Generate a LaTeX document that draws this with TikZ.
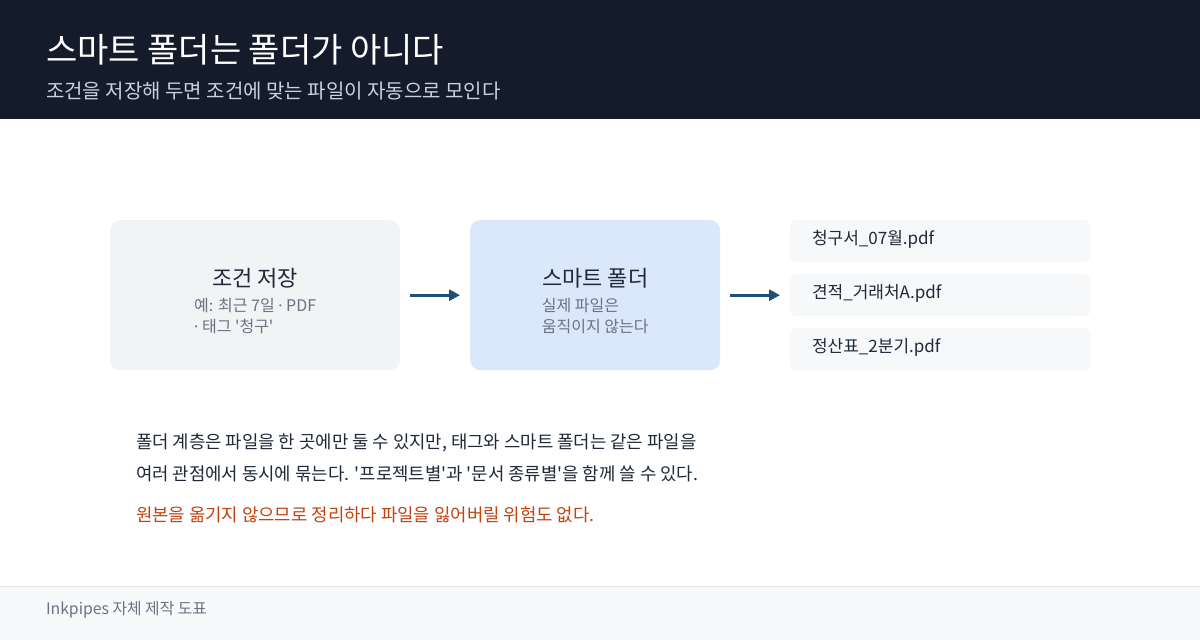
\documentclass[tikz,border=0pt]{standalone}
\usepackage{fontspec}
\setmainfont{Noto Sans CJK KR}
\newfontfamily\latn{Noto Sans}
\usetikzlibrary{arrows.meta}
\definecolor{hdr}{HTML}{141B2B}
\definecolor{hsub}{HTML}{CBD2DC}
\definecolor{ink}{HTML}{1F2937}
\definecolor{mute}{HTML}{6B7280}
\definecolor{boxg}{HTML}{F1F3F5}
\definecolor{boxb}{HTML}{DBE8FC}
\definecolor{filebg}{HTML}{F7F8FA}
\definecolor{arrc}{HTML}{1F4E79}
\definecolor{warn}{HTML}{C2410C}
\definecolor{foot}{HTML}{F8F9FB}
\definecolor{footline}{HTML}{E3E6EA}
\newcommand{\q}{\textquotesingle}
\newcommand{\md}{{\latn ·}}
\tikzset{
  card/.style={draw=none, rounded corners=10pt, inner sep=0pt},
  filebox/.style={draw=none, fill=filebg, rounded corners=6pt, inner sep=0pt, minimum width=300pt, minimum height=42pt},
  arr/.style={draw=arrc, line width=3pt, -{Triangle[length=11pt,width=11pt]}},
  txt/.style={inner sep=0pt, outer sep=0pt},
}
\begin{document}
\begin{tikzpicture}[x=1pt,y=-1pt]
\useasboundingbox (0,0) rectangle (1200,640);
\fill[white] (0,0) rectangle (1200,640);
% header
\fill[hdr] (0,0) rectangle (1200,119);
\node[txt, anchor=base west, text=white, font=\fontsize{34}{40}\selectfont] (title) at (46,62) {스마트 폴더는 폴더가 아니다};
\node[txt, anchor=base west, text=hsub, font=\fontsize{20}{24}\selectfont] (subtitle) at (46,98) {조건을 저장해 두면 조건에 맞는 파일이 자동으로 모인다};
% cards
\node[card, fill=boxg, minimum width=290pt, minimum height=150pt, anchor=north west] (b1) at (110,220) {};
\node[card, fill=boxb, minimum width=250pt, minimum height=150pt, anchor=north west] (b2) at (470,220) {};
\node[txt, anchor=base, text=ink, font=\fontsize{22}{26}\selectfont] (b1t) at (b1.center |- 0,286) {조건 저장};
\node[txt, anchor=center, align=left, text=mute, font=\fontsize{16}{21}\selectfont] (b1s) at (b1.center |- 0,316.5) {예: 최근 7일 \md{} PDF\\\md{} 태그 \q{}청구\q{}};
\node[txt, anchor=base, text=ink, font=\fontsize{22}{26}\selectfont] (b2t) at (b2.center |- 0,286) {스마트 폴더};
\node[txt, anchor=center, align=left, text=mute, font=\fontsize{16}{21}\selectfont] (b2s) at (b2.center |- 0,316.5) {실제 파일은\\움직이지 않는다};
% files
\node[filebox, anchor=north west] (f1) at (790,220) {};
\node[filebox, anchor=north west] (f2) at (790,274) {};
\node[filebox, anchor=north west] (f3) at (790,328) {};
\node[txt, anchor=west, text=ink, font=\fontsize{17}{20}\selectfont] (f1t) at ([xshift=22pt,yshift=2pt]f1.west) {청구서\_07월.pdf};
\node[txt, anchor=west, text=ink, font=\fontsize{17}{20}\selectfont] (f2t) at ([xshift=22pt,yshift=2pt]f2.west) {견적\_거래처A.pdf};
\node[txt, anchor=west, text=ink, font=\fontsize{17}{20}\selectfont] (f3t) at ([xshift=22pt,yshift=2pt]f3.west) {정산표\_2분기.pdf};
% arrows
\draw[arr] ([xshift=10pt]b1.east) -- ([xshift=-10pt]b2.west);
\draw[arr] ([xshift=10pt]b2.east) -- ([xshift=-10pt]f2.west);
% body
\node[txt, anchor=base west, text=ink, font=\fontsize{17.8}{20}\selectfont] (p1) at (136,448.4) {폴더 계층은 파일을 한 곳에만 둘 수 있지만, 태그와 스마트 폴더는 같은 파일을};
\node[txt, anchor=base west, text=ink, font=\fontsize{17.8}{20}\selectfont] (p2) at (136,480.4) {여러 관점에서 동시에 묶는다. \q{}프로젝트별\q{}과 \q{}문서 종류별\q{}을 함께 쓸 수 있다.};
\node[txt, anchor=base west, text=warn, font=\fontsize{17.8}{20}\selectfont] (p3) at (136,521.4) {원본을 옮기지 않으므로 정리하다 파일을 잃어버릴 위험도 없다.};
% footer
\fill[foot] (0,586) rectangle (1200,640);
\draw[footline, line width=1pt] (0,586) -- (1200,586);
\node[txt, anchor=base west, text=mute, font=\fontsize{15.8}{18}\selectfont] (ft) at (46,614.7) {Inkpipes 자체 제작 도표};
\end{tikzpicture}
\end{document}
